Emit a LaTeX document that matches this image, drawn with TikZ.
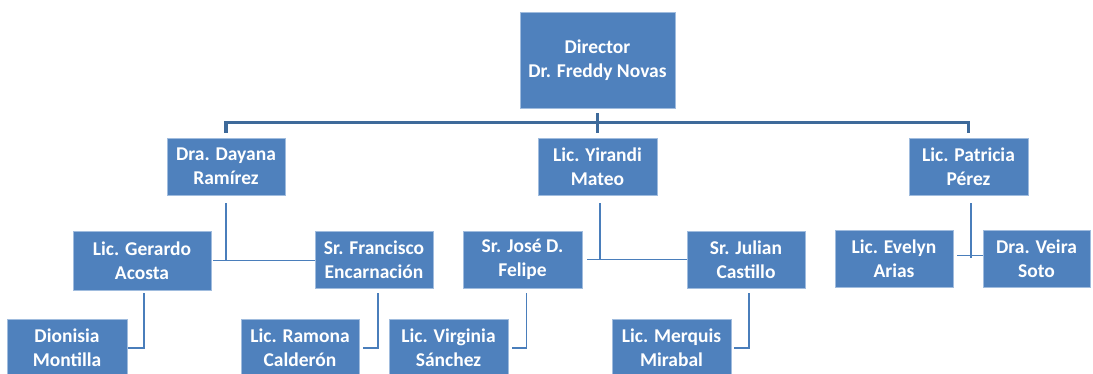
\documentclass[tikz,border=0pt]{standalone}
\usepackage{fontspec}
\setmainfont{Carlito}
\usepackage{tikz}
\usetikzlibrary{calc,positioning}
\definecolor{boxblue}{RGB}{79,129,189}
\definecolor{edgeblue}{RGB}{160,188,222}
\definecolor{linkblue}{RGB}{74,126,187}
\definecolor{busblue}{RGB}{62,106,154}

\begin{document}
\begin{tikzpicture}[x=1pt,y=-1pt,
		box/.style={rectangle,draw=edgeblue,fill=boxblue,line width=0.7pt,text=white,align=center,inner sep=0pt,minimum width=118pt,minimum height=57pt,font=\fontsize{19.5}{24}\selectfont\bfseries},
		link/.style={linkblue,line width=1.4pt},
		bus/.style={busblue,line width=3.5pt}]
		
		\useasboundingbox (0,0) rectangle (1093,374);
		
		\node[box,minimum width=155pt,minimum height=96pt] (A) at (597.5,60) {Director\\Dr. Freddy Novas};
		
		%first level
		\node[box] (B) at (226,166.5) {Dra. Dayana\\Ramírez};
		\node[box,minimum width=119pt] (C) at (597.5,166.5) {Lic. Yirandi\\Mateo};
		\node[box,minimum width=119pt] (D) at (968.5,166.5) {Lic. Patricia\\Pérez};
		
		%second level
		\node[box,minimum width=138pt,minimum height=59pt] (E) at (142,260.5) {Lic. Gerardo\\Acosta};
		\node[box] (F) at (374,259.5) {Sr. Francisco\\Encarnación};
		\node[box,minimum width=119pt] (G) at (522.5,259.5) {Sr. José D.\\Felipe};
		\node[box] (H) at (746,259.5) {Sr. Julian\\Castillo};
		\node[box] (I) at (894,258.5) {Lic. Evelyn\\Arias};
		\node[box,minimum width=107pt] (J) at (1036.5,258.5) {Dra. Veira\\Soto};
		
		%third level
		\node[box,minimum width=120pt] (K) at (67,348) {Dionisia\\Montilla};
		\node[box] (L) at (300,348) {Lic. Ramona\\Calderón};
		\node[box,minimum width=119pt] (M) at (448.5,348) {Lic. Virginia\\Sánchez};
		\node[box,minimum width=119pt] (N) at (671.5,348) {Lic. Merquis\\Mirabal};
		
		\draw[bus,shorten <=5pt] (A.south) -- ++(0,25);
		\draw[bus,shorten <=5pt,shorten >=5pt] (B.north) -- ++(0,-15) -| (D.north);
		
		\draw[link,shorten <=8pt] (B.south) -- (B.south |- E.east);
		\draw[link,shorten <=2pt] (E.east) -- (E.east -| F.west);
		\draw[link,shorten <=8pt] ([xshift=2.5pt]C.south) -- ([xshift=2.5pt]C.south |- G.east);
		\draw[link,shorten <=5pt] (G.east) -- (G.east -| H.west);
		\draw[link,shorten <=8pt] ([xshift=2.5pt]D.south) -- ([xshift=2.5pt]D.south |- I.east);
		\draw[link,shorten <=4pt] ([yshift=3pt]I.east) -- ([yshift=3pt]J.west);
		
		\draw[link,shorten <=3pt,shorten >=1pt] ([xshift=2pt]E.south) |- (K.east);
		\draw[link,shorten <=5pt,shorten >=4pt] ([xshift=4pt]F.south) |- (L.east);
		\draw[link,shorten <=5pt,shorten >=4pt] ([xshift=4pt]G.south) |- (M.east);
		\draw[link,shorten <=5pt,shorten >=3pt] ([xshift=3pt]H.south) |- (N.east);
		
\end{tikzpicture}
\end{document}
